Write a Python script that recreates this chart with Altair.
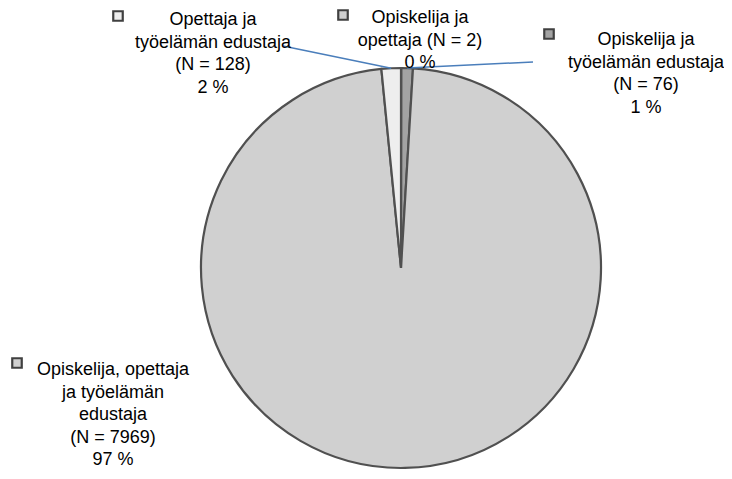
import math
import altair as alt
import pandas as pd

# ---- data (slices in clockwise order from 12 o'clock) ----
categories = [
    "Opiskelija ja opettaja",
    "Opiskelija ja työelämän edustaja",
    "Opiskelija, opettaja ja työelämän edustaja",
    "Opettaja ja työelämän edustaja",
]
counts = [2, 76, 7969, 128]
percents = ["0 %", "1 %", "97 %", "2 %"]
label_texts = [
    "Opiskelija ja\nopettaja (N = 2)\n0 %",
    "Opiskelija ja\ntyöelämän edustaja\n(N = 76)\n1 %",
    "Opiskelija, opettaja\nja työelämän\nedustaja\n(N = 7969)\n97 %",
    "Opettaja ja\ntyöelämän edustaja\n(N = 128)\n2 %",
]
fills = ["#cfcfcf", "#a3a3a3", "#d0d0d0", "#eeeeee"]

# ---- layout (chart pixel coordinates) ----
W, H = 716, 463
CX, CY, R = 393, 260, 200
label_xy = [(412, 15), (638, 37), (105, 367), (205, 17)]      # first-line baseline, text centre
swatch_xy = [(335, 7), (541, 26), (9, 355), (110, 8)]
leader_from = [None, (525, 54), None, (275, 38)]

df = pd.DataFrame({"cat": categories, "n": counts, "idx": list(range(len(counts)))})

color_scale = alt.Scale(domain=categories, range=fills)

arcs = alt.Chart(df).mark_arc(stroke="#505050", strokeWidth=2.2, radius=R).encode(
    theta=alt.Theta("n:Q", stack=True),
    order=alt.Order("idx:Q"),
    color=alt.Color("cat:N", scale=color_scale, legend=None),
    x=alt.value(CX),
    y=alt.value(CY),
)

lab = pd.DataFrame({
    "cat": categories,
    "txt": label_texts,
    "lx": [p[0] for p in label_xy],
    "ly": [p[1] for p in label_xy],
    "sx": [p[0] for p in swatch_xy],
    "sy": [p[1] for p in swatch_xy],
})

texts = alt.Chart(lab).mark_text(
    lineBreak="\n", align="center", baseline="alphabetic",
    font="Liberation Sans", fontSize=18, lineHeight=22.6, color="#000000",
).encode(
    x=alt.X("lx:Q", scale=None, axis=None),
    y=alt.Y("ly:Q", scale=None, axis=None),
    text="txt:N",
)

swatches = alt.Chart(lab).mark_square(size=90, stroke="#404040", strokeWidth=2.2, opacity=1).encode(
    x=alt.X("sx:Q", scale=None, axis=None),
    y=alt.Y("sy:Q", scale=None, axis=None),
    fill=alt.Fill("cat:N", scale=color_scale, legend=None),
)

# leader lines to the mid-angle of the small slices
total = sum(counts)
rows = []
cum = 0
for i, n in enumerate(counts):
    mid = (cum + n / 2) / total * 2 * math.pi
    cum += n
    if leader_from[i] is None:
        continue
    ex = CX + R * math.sin(mid)
    ey = CY - R * math.cos(mid)
    rows.append({"x1": leader_from[i][0], "y1": leader_from[i][1], "x2": ex, "y2": ey})
lead = pd.DataFrame(rows)

leaders = alt.Chart(lead).mark_rule(color="#4a7ebb", strokeWidth=1.5).encode(
    x=alt.X("x1:Q", scale=None, axis=None),
    y=alt.Y("y1:Q", scale=None, axis=None),
    x2="x2:Q",
    y2="y2:Q",
)

chart = alt.layer(arcs, leaders, texts, swatches).properties(
    width=W, height=H, padding=0, autosize=alt.AutoSizeParams(type="none"),
).configure_view(stroke=None)

chart.save("out.html", embed_options={"renderer": "svg", "actions": False})
